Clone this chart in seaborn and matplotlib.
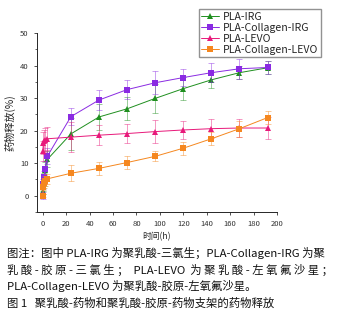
import numpy as np
import pandas as pd
import matplotlib
matplotlib.use('Agg')
import matplotlib.pyplot as plt
import seaborn as sns
from matplotlib.ticker import MultipleLocator

sns.set_style('ticks')
plt.rcParams['font.family'] = ['Noto Sans CJK SC', 'DejaVu Sans']

# release time points (h)
time_h = [0, 0.5, 1, 2, 4, 24, 48, 72, 96, 120, 144, 168, 192]

# cumulative drug release (%) and error bars
pla_irg = [1.5, 3.0, 5.0, 8.0, 11.2, 19.0, 24.2, 26.7, 29.9, 32.9, 35.6, 37.8, 39.3]
pla_irg_err = [1.0, 1.5, 2.0, 2.5, 2.5, 5.0, 4.0, 3.5, 4.5, 3.5, 2.5, 2.0, 2.0]
pla_col_irg = [0.0, 3.5, 5.7, 8.1, 12.2, 24.3, 29.4, 32.6, 34.7, 36.3, 37.8, 39.0, 39.4]
pla_col_irg_err = [1.0, 1.5, 2.0, 2.5, 2.5, 2.5, 3.0, 3.0, 3.5, 2.7, 3.0, 3.0, 2.0]
pla_levo = [13.7, 16.2, 16.8, 17.2, 17.5, 18.0, 18.6, 19.1, 19.7, 20.2, 20.6, 20.8, 20.8]
pla_levo_err = [3.0, 3.5, 3.5, 3.5, 3.5, 4.5, 3.0, 3.0, 3.5, 2.8, 3.0, 2.8, 3.5]
pla_col_levo = [0.0, 2.8, 4.0, 4.6, 5.2, 6.9, 8.4, 10.2, 12.1, 14.6, 17.5, 20.6, 24.0]
pla_col_levo_err = [0.5, 1.0, 1.5, 1.5, 1.5, 2.5, 2.0, 2.0, 1.5, 2.0, 2.0, 2.5, 2.0]

names = ['PLA-IRG', 'PLA-Collagen-IRG', 'PLA-LEVO', 'PLA-Collagen-LEVO']
values = [pla_irg, pla_col_irg, pla_levo, pla_col_levo]
errors = [pla_irg_err, pla_col_irg_err, pla_levo_err, pla_col_levo_err]
colors = ['#1f8f1f', '#8a2be2', '#e8197a', '#f5871f']
markers = ['^', 's', '^', 's']

df = pd.concat([pd.DataFrame({'time': time_h, 'release': v, 'err': e, 'sample': n})
                for n, v, e in zip(names, values, errors)])

fig = plt.figure(figsize=(3.39, 3.2), dpi=100)
ax = fig.add_axes([0.109, 0.3375, 0.708, 0.5595])

for name, color, marker in zip(names, colors, markers):
    sub = df[df['sample'] == name]
    ax.errorbar(sub['time'], sub['release'], yerr=sub['err'], fmt='none',
                ecolor=color, alpha=0.45, elinewidth=0.7, capsize=2, capthick=0.7)
    sns.lineplot(data=sub, x='time', y='release', ax=ax, color=color,
                 marker=marker, markersize=4, markeredgewidth=0,
                 linewidth=0.7, label=name)

ax.set_xlim(-5, 200)
ax.set_ylim(-5, 50)
ax.xaxis.set_major_locator(MultipleLocator(20))
ax.yaxis.set_major_locator(MultipleLocator(10))
ax.yaxis.set_minor_locator(MultipleLocator(5))
ax.tick_params(labelsize=5.5, colors='#333333', length=2.5, width=0.6)
ax.tick_params(which='minor', length=1.5, width=0.5)
for s in ['top', 'right']:
    ax.spines[s].set_visible(False)
for s in ['left', 'bottom']:
    ax.spines[s].set_linewidth(0.7)
ax.set_xlabel('时间(h)', fontsize=6.3, labelpad=3)
ax.set_ylabel('药物释放(%)', fontsize=7.3, labelpad=3)

ax.get_legend().remove()
handles, labels = ax.get_legend_handles_labels()
fig.legend(handles, labels, loc='upper right', bbox_to_anchor=(0.948, 0.972),
           fontsize=7.6, frameon=True, fancybox=False, edgecolor='#777777',
           handlelength=1.7, borderpad=0.25, labelspacing=0.1, handletextpad=0.4,
           borderaxespad=0)

caption = [
    '图注：图中 PLA-IRG 为聚乳酸-三氯生；PLA-Collagen-IRG 为聚',
    '乳 酸 - 胶 原 - 三 氯 生 ；  PLA-LEVO  为 聚 乳 酸 - 左 氧 氟 沙 星 ；',
    'PLA-Collagen-LEVO 为聚乳酸-胶原-左氧氟沙星。',
    '图 1   聚乳酸-药物和聚乳酸-胶原-药物支架的药物释放',
]
ys = [253, 270, 286, 303]
for line, y in zip(caption, ys):
    fig.text(7 / 339, 1 - y / 320, line, fontsize=8.2, va='center', ha='left',
             color='#111111')

fig.savefig('out.png', dpi=100)
